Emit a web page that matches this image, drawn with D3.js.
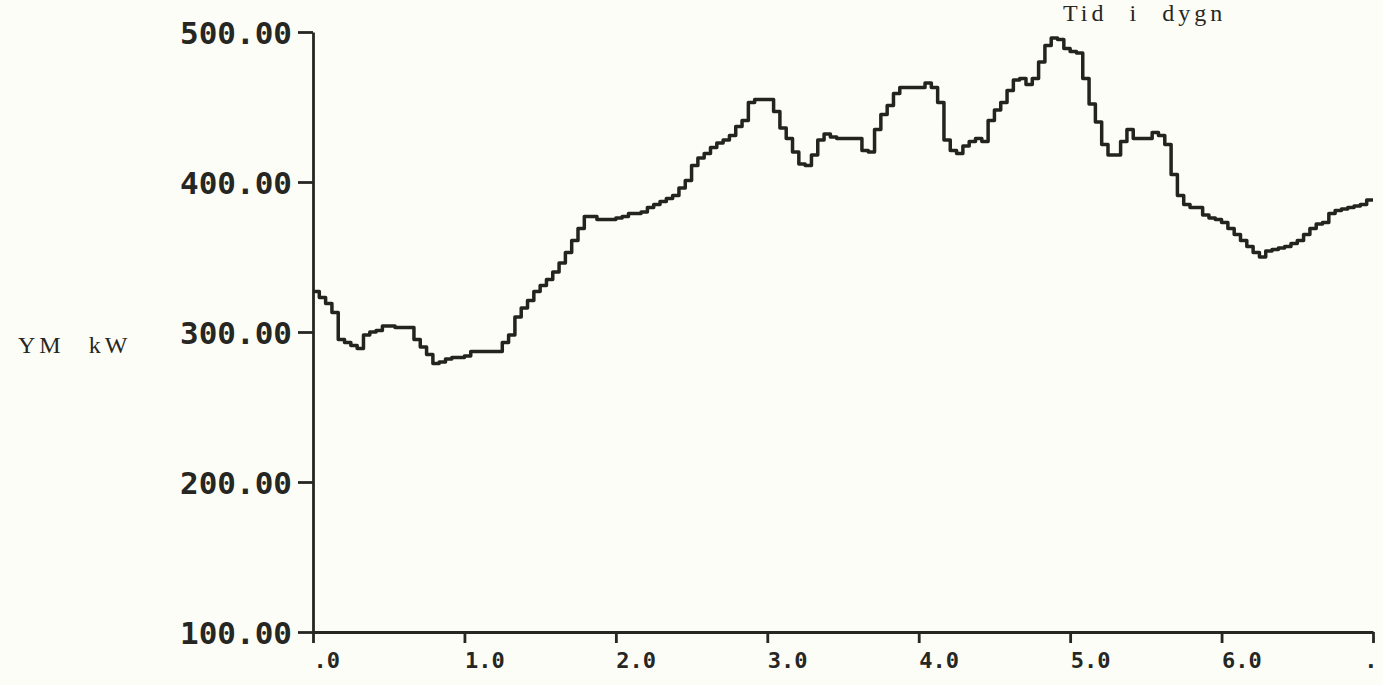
<!DOCTYPE html>
<html>
<head>
<meta charset="utf-8">
<script src="https://cdn.jsdelivr.net/npm/d3@7"></script>
<style>
  body { margin: 0; background: #fdfdf7; }
  svg { display: block; }
  .tick text { font-family: "DejaVu Sans Mono", monospace; font-weight: bold; fill: #262622; }
  .domain, .tick line { stroke: #262622; stroke-width: 2.8; }
  .label { font-family: "Liberation Serif", serif; fill: #262622; }
</style>
</head>
<body>
<script>
// Set up the chart parameters

let svgWidth = 1383
let svgHeight = 685

var margin = { top: 32, right: 10, bottom: 53, left: 313 };

let width = 1060;
let height = 600;

// hourly load over one week (YM, kW)
let loadKW = [
  327, 323, 319, 313, 295, 293, 291, 289, 298, 300, 301, 304, 304, 303, 303, 303,
  295, 290, 285, 279, 280, 282, 283, 283, 284, 287, 287, 287, 287, 287, 293, 298,
  310, 316, 321, 327, 331, 335, 340, 346, 353, 361, 369, 377, 377, 375, 375, 375,
  376, 377, 379, 379, 380, 383, 385, 387, 389, 391, 396, 401, 411, 416, 419, 423,
  426, 428, 431, 437, 441, 453, 455, 455, 455, 447, 436, 429, 420, 412, 411, 418,
  428, 432, 430, 429, 429, 429, 429, 421, 420, 435, 445, 451, 459, 463, 463, 463,
  463, 466, 463, 453, 428, 421, 419, 424, 427, 429, 427, 441, 448, 453, 461, 468,
  469, 465, 469, 480, 491, 496, 495, 489, 487, 486, 469, 452, 440, 425, 418, 418,
  427, 435, 429, 429, 429, 433, 431, 425, 405, 391, 385, 383, 383, 378, 376, 375,
  373, 369, 365, 361, 357, 353, 350, 354, 355, 356, 357, 359, 361, 365, 369, 372,
  373, 379, 381, 382, 383, 384, 385, 388
];

let yTicks = [100, 200, 300, 400, 500];
let xTicks = [0, 1, 2, 3, 4, 5, 6, 7];
let xTickLabels = [".0", "1.0", "2.0", "3.0", "4.0", "5.0", "6.0", "."];

// step points: one per hour, plus the end of the last hour
let points = loadKW.map((v, i) => ({ day: i / 24, kw: v }));
points.push({ day: loadKW.length / 24, kw: loadKW[loadKW.length - 1] });

let svg = d3.select("body")
  .append("svg")
  .attr("width", svgWidth)
  .attr("height", svgHeight);

let chartGroup = svg.append("g")
  .attr("transform", `translate(${margin.left}, ${margin.top})`);

// scales
let xScale = d3.scaleLinear().domain([0, 7]).range([0, width]);
let yScale = d3.scaleLinear().domain([100, 500]).range([height, 0]);

// axes
let leftAxis = d3.axisLeft(yScale)
  .tickValues(yTicks)
  .tickFormat(d3.format(".2f"))
  .tickSize(15)
  .tickSizeOuter(0)
  .tickPadding(6);

let bottomAxis = d3.axisBottom(xScale)
  .tickValues(xTicks)
  .tickFormat((d, i) => xTickLabels[i])
  .tickSize(11)
  .tickSizeOuter(0);

let yAxisG = chartGroup.append("g").call(leftAxis);
yAxisG.selectAll(".tick text").attr("font-size", 31).attr("dy", "0.36em");

let xAxisG = chartGroup.append("g")
  .attr("transform", `translate(0, ${height})`)
  .call(bottomAxis);
xAxisG.selectAll(".tick text")
  .attr("font-size", 22)
  .attr("text-anchor", (d, i) => i === xTicks.length - 1 ? "end" : "start")
  .attr("x", (d, i) => i === xTicks.length - 1 ? 4 : 0)
  .attr("y", 36)
  .attr("dy", 0);

// the load curve
let line = d3.line()
  .x(d => xScale(d.day))
  .y(d => yScale(d.kw))
  .curve(d3.curveStepAfter);

chartGroup.append("path")
  .datum(points)
  .attr("fill", "none")
  .attr("stroke", "#24241f")
  .attr("stroke-width", 3.5)
  .attr("stroke-linejoin", "round")
  .attr("d", line);

// labels
svg.append("text")
  .attr("class", "label")
  .attr("x", 18)
  .attr("y", 353)
  .attr("font-size", 24)
  .attr("letter-spacing", 4)
  .attr("word-spacing", 14)
  .text("YM kW");

svg.append("text")
  .attr("class", "label")
  .attr("x", 1063)
  .attr("y", 21)
  .attr("font-size", 24)
  .attr("letter-spacing", 4)
  .attr("word-spacing", 12)
  .text("Tid i dygn");
</script>
</body>
</html>
